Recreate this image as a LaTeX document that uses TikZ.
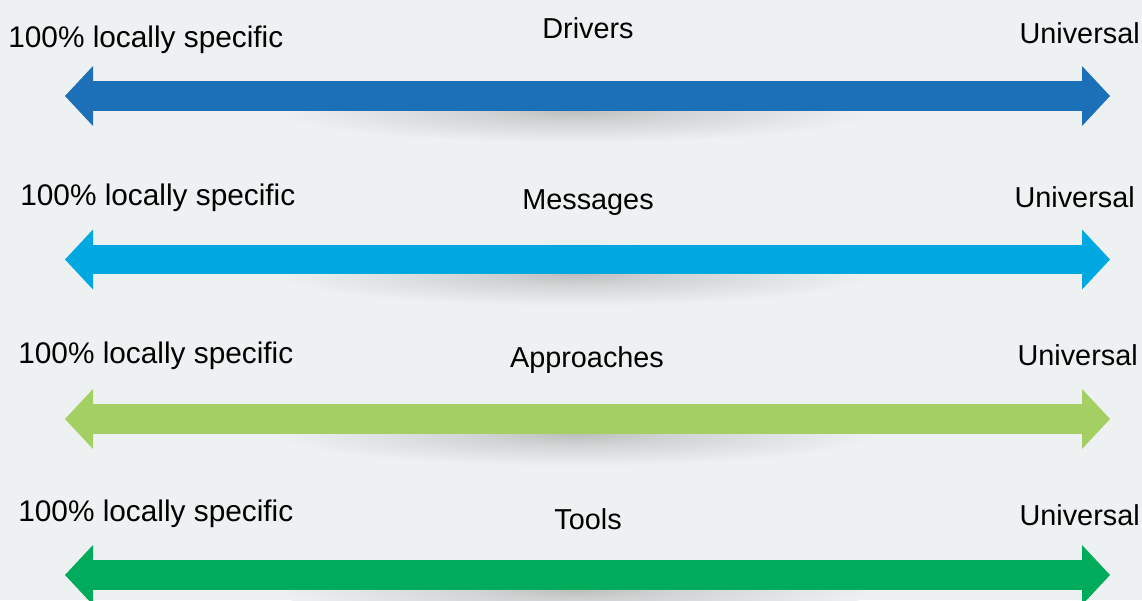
\documentclass[tikz,border=0pt]{standalone}
\usepackage{fontspec}
\setmainfont{Liberation Sans}
\usepackage{tikz}
\usetikzlibrary{arrows.meta,positioning}

\definecolor{bgGray}{HTML}{EEF1F2}
\definecolor{shadowGray}{HTML}{BDBFBF}
\definecolor{driverBlue}{HTML}{1C70B8}
\definecolor{messageBlue}{HTML}{00A8E2}
\definecolor{approachGreen}{HTML}{A3CF63}
\definecolor{toolGreen}{HTML}{00AB5B}

\pgfdeclareradialshading{softshadow}{\pgfpoint{0bp}{0bp}}{%
  color(0bp)=(shadowGray); color(8bp)=(shadowGray!60!bgGray); color(25bp)=(bgGray); color(50bp)=(bgGray)}

\begin{document}
\begin{tikzpicture}
  [
    x=0.025cm, y=-0.025cm,
    Label/.style={inner sep=0pt, font=\fontsize{20.5pt}{24pt}\selectfont, text=black},
    Local/.style={Label, font=\fontsize{21.2pt}{25pt}\selectfont},
    Bar/.style={line width=0.74cm,
      {Triangle[length=0.7cm, width=1.5cm, line width=0pt]}-{Triangle[length=0.7cm, width=1.5cm, line width=0pt]}},
    Shadow/.style={shading=softshadow}
  ]
  % Background
  \path[use as bounding box, fill=bgGray] (0,0) rectangle (1142,600);

  % Ends of the bars
  \coordinate (drvL) at (65,96);
  \coordinate (drvR) at (1110,96);
  \coordinate (msgL) at (65,259.5);
  \coordinate (msgR) at (1110,259.5);
  \coordinate (appL) at (65,419);
  \coordinate (appR) at (1110,419);
  \coordinate (tolL) at (65,575);
  \coordinate (tolR) at (1110,575);

  % Shadows
  \shade[Shadow] (575,111) ellipse (300 and 32);
  \shade[Shadow] (575,274) ellipse (300 and 32);
  \shade[Shadow] (575,434) ellipse (300 and 32);
  \shade[Shadow] (575,590) ellipse (300 and 32);

  % Bars
  \draw[Bar, draw=driverBlue] (drvL) -- (drvR);
  \draw[Bar, draw=messageBlue] (msgL) -- (msgR);
  \draw[Bar, draw=approachGreen] (appL) -- (appR);
  \draw[Bar, draw=toolGreen] (tolL) -- (tolR);

  % Labels
  \node[Local, anchor=base west] (drvLocal) at (8,47) {100\% locally specific};
  \node[Label, anchor=base] (drvTitle) at (588,38) {Drivers};
  \node[Label, anchor=base east] (drvUniv) at (1140,43) {Universal};

  \node[Local, anchor=base west] (msgLocal) at (20,205) {100\% locally specific};
  \node[Label, anchor=base] (msgTitle) at (588,209) {Messages};
  \node[Label, anchor=base east] (msgUniv) at (1135,207) {Universal};

  \node[Local, anchor=base west] (appLocal) at (18,363) {100\% locally specific};
  \node[Label, anchor=base] (appTitle) at (587,367) {Approaches};
  \node[Label, anchor=base east] (appUniv) at (1138,365) {Universal};

  \node[Local, anchor=base west] (tolLocal) at (18,521) {100\% locally specific};
  \node[Label, anchor=base] (tolTitle) at (588,529) {Tools};
  \node[Label, anchor=base east] (tolUniv) at (1140,525) {Universal};

\end{tikzpicture}
\end{document}
